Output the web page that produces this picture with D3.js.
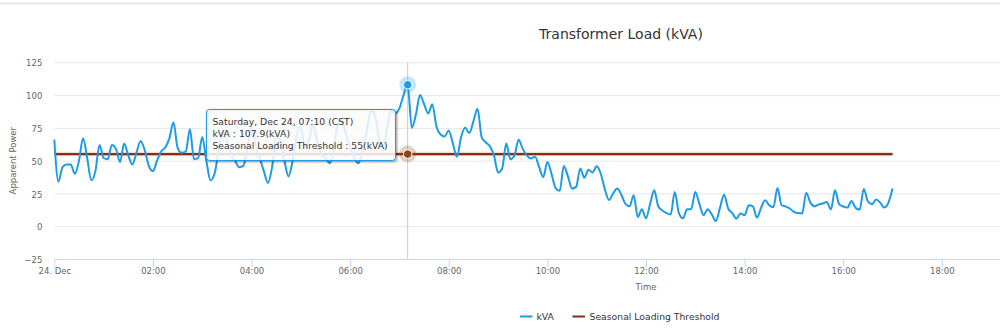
<!DOCTYPE html>
<html><head><meta charset="utf-8">
<script src="https://cdn.jsdelivr.net/npm/d3@7"></script>
<style>
html,body{margin:0;padding:0;background:#fff;overflow:hidden}
svg{display:block;font-family:"DejaVu Sans",sans-serif}
</style>
</head><body>
<svg id="c" width="1000" height="329"></svg>
<script>
// ---------------- data ----------------
const chartTitle = "Transformer Load (kVA)";
const yAxisTitle = "Apparent Power";
const xAxisTitle = "Time";
const seriesNames = ["kVA", "Seasonal Loading Threshold"];
const yTickValues = [-25, 0, 25, 50, 75, 100, 125];
const xTickTimes = ["2016-12-24T00:00:00","2016-12-24T02:00:00","2016-12-24T04:00:00","2016-12-24T06:00:00",
  "2016-12-24T08:00:00","2016-12-24T10:00:00","2016-12-24T12:00:00","2016-12-24T14:00:00",
  "2016-12-24T16:00:00","2016-12-24T18:00:00"];
const xTickLabels = ["24. Dec","02:00","04:00","06:00","08:00","10:00","12:00","14:00","16:00","18:00"];
const xDomain = ["2016-12-24T00:00:00", "2016-12-25T00:00:00"];
const sampleStart = "2016-12-24T00:00:00";
const sampleStepMinutes = 5;
const kvaValues = [
  66,34,45,47,47,40,50,67,52,35,42,62,52,51,62,59,49,63,54,47,
  56,65,58,46,42,50,57,60,67,79,60,56,57,74,51,52,68,50,35,40,
  58,72,65,55,50,45,46,60,75,62,52,42,33,45,68,66,50,38,50,70,
  76,60,66,78,64,55,52,48,58,78,82,70,60,52,48,58,72,88,85,68,
  58,75,88,86,90,100,107.9,75,85,100,93,86,93,76,70,68.5,73,63,53,68,
  75,71,80,89.6,68,64,61,54,41,44,63,51,54,66,59,54,51.6,53,45,37.5,
  49,40,29,27,46,38,28.7,30,44,37,43,41,45.7,40,28,20,25,28.7,24,17,
  15.2,23.6,7,13,6,17,27.4,15,12,10,9,26,10,6,13,13,26,17,8.4,13,
  9,4,14,24,13.5,10,5.8,9.7,8.4,16,15.2,6.6,14,19.8,16,14.5,29.2,16,15,13.5,
  10.9,10,9.7,25.6,18,15.2,16.5,17.3,18.5,12.7,27.4,16.8,15,14.2,19.3,14,12.7,28.4,19,16.8,
  20.3,18,14.2,18,28.7
];
const thresholdTimes = ["2016-12-24T00:00:00", "2016-12-24T17:00:00"];
const thresholdValues = [55, 55];
const tooltipTime = "2016-12-24T07:10:00";
const tooltipKva = 107.9;
const tooltipThreshold = 55;
const tooltipLines = ["Saturday, Dec 24, 07:10 (CST)", "kVA : 107.9(kVA)", "Seasonal Loading Threshold : 55(kVA)"];

// ---------------- drawing ----------------
const parse = d3.timeParse("%Y-%m-%dT%H:%M:%S");
const svg = d3.select("#c");
const blue = "#1d9be7", brown = "#8a2c10";
const plot = {left: 54.3, right: 1237.7, top: 62.3, bottom: 259};

const x = d3.scaleTime().domain(xDomain.map(parse)).range([plot.left, plot.right]);
const y = d3.scaleLinear().domain([-25, 125]).range([plot.bottom, plot.top]);

// top border
svg.append("rect").attr("x",0).attr("y",2.5).attr("width",1000).attr("height",2).attr("fill","#e9e9e9");

// title
svg.append("text").attr("x",621).attr("y",39).attr("text-anchor","middle")
  .attr("font-size","14px").attr("fill","#333").text(chartTitle);

// y axis with gridlines
const gy = svg.append("g").attr("transform",`translate(${plot.left},0)`)
  .call(d3.axisLeft(y).tickValues(yTickValues).tickSize(-(1000-plot.left)).tickPadding(12));
gy.select(".domain").remove();
gy.selectAll("line").attr("stroke","#e6e6e6");
gy.selectAll(".tick").filter(d => d === -25).select("line").remove();
gy.selectAll("text").attr("fill","#666").attr("font-size","8.5px").attr("dy","0.42em")
  .attr("font-family","DejaVu Sans");

svg.append("text").attr("transform",`translate(15.5,${(plot.top+plot.bottom)/2}) rotate(-90)`)
  .attr("text-anchor","middle").attr("font-size","8.5px").attr("fill","#666").text(yAxisTitle);

// x axis
const gx = svg.append("g").attr("transform",`translate(0,${plot.bottom})`)
  .call(d3.axisBottom(x).tickValues(xTickTimes.map(parse)).tickSize(8).tickSizeOuter(0).tickPadding(1)
    .tickFormat((d,i) => xTickLabels[i]));
gx.select(".domain").attr("stroke","#ccd6eb");
gx.selectAll("line").attr("stroke","#ccd6eb");
gx.selectAll("text").attr("fill","#666").attr("font-size","8.5px").attr("font-family","DejaVu Sans");

svg.append("text").attr("x",(plot.left+plot.right)/2).attr("y",290).attr("text-anchor","middle")
  .attr("font-size","8.5px").attr("fill","#666").text(xAxisTitle);

// crosshair
const tx = x(parse(tooltipTime));
svg.append("line").attr("x1",tx).attr("x2",tx).attr("y1",plot.top).attr("y2",plot.bottom)
  .attr("stroke","#c8c8c8").attr("stroke-width",1);

// series
const t0 = parse(sampleStart);
const kvaData = kvaValues.map((v,i) => ({t: d3.timeMinute.offset(t0, i*sampleStepMinutes), v}));
const thrData = thresholdTimes.map((t,i) => ({t: parse(t), v: thresholdValues[i]}));

const line = d3.line().x(d => x(d.t)).y(d => y(d.v)).curve(d3.curveMonotoneX);
svg.append("path").datum(thrData).attr("d", line).attr("fill","none")
  .attr("stroke","rgba(150,70,30,0.16)").attr("stroke-width",4.5);
svg.append("path").datum(thrData).attr("d", line).attr("fill","none")
  .attr("stroke",brown).attr("stroke-width",2.2);
svg.append("path").datum(kvaData).attr("d", line).attr("fill","none")
  .attr("stroke",blue).attr("stroke-width",2).attr("stroke-linejoin","round");

// hover markers
const ky = y(tooltipKva), hy = y(tooltipThreshold);
svg.append("circle").attr("cx",tx).attr("cy",ky).attr("r",8.5).attr("fill",blue).attr("opacity",0.25);
svg.append("circle").attr("cx",tx).attr("cy",ky).attr("r",4.2).attr("fill",blue).attr("stroke","#fff").attr("stroke-width",1);
svg.append("circle").attr("cx",tx).attr("cy",hy).attr("r",8.5).attr("fill","#8b4a20").attr("opacity",0.25);
svg.append("circle").attr("cx",tx).attr("cy",hy).attr("r",4.2).attr("fill","#8a4614").attr("stroke","#fff").attr("stroke-width",1);

// legend
const lg = svg.append("g");
lg.append("line").attr("x1",520).attr("x2",532.5).attr("y1",316.5).attr("y2",316.5).attr("stroke",blue).attr("stroke-width",2);
lg.append("text").attr("x",536.5).attr("y",320).attr("font-size","9.27px").attr("fill","#333").text(seriesNames[0]);
lg.append("line").attr("x1",572.5).attr("x2",585).attr("y1",316.5).attr("y2",316.5).attr("stroke",brown).attr("stroke-width",2);
lg.append("text").attr("x",589.5).attr("y",320).attr("font-size","9.27px").attr("fill","#333").text(seriesNames[1]);

// tooltip
const tt = svg.append("g");
const bx = 206.5, by = 109.5, bw = 189, bh = 51;
[[5,0.05],[3,0.1],[1,0.15]].forEach(([w,o]) => {
  tt.append("rect").attr("x",bx+1).attr("y",by+1).attr("width",bw).attr("height",bh).attr("rx",3)
    .attr("fill","none").attr("stroke",`rgba(0,0,0,${o})`).attr("stroke-width",w);
});
tt.append("rect").attr("x",bx).attr("y",by).attr("width",bw).attr("height",bh).attr("rx",3)
  .attr("fill","rgba(251,251,251,0.86)").attr("stroke",blue).attr("stroke-width",1);
tooltipLines.forEach((s,i) => {
  tt.append("text").attr("x",212.5).attr("y",125 + i*12).attr("font-size","9.25px").attr("fill","#333").text(s);
});
</script>
</body></html>
